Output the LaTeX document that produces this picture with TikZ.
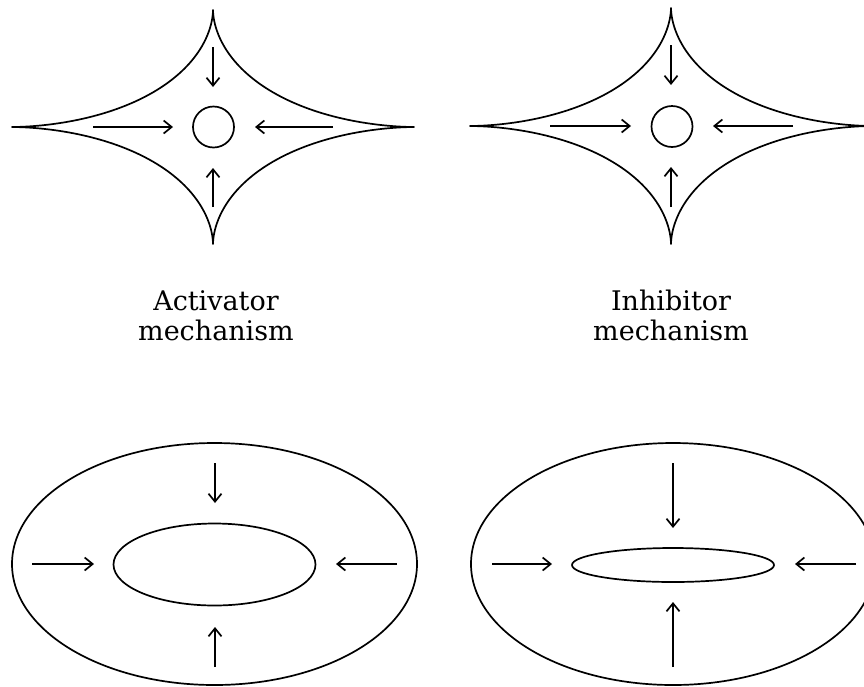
\documentclass[tikz,border=0pt]{standalone}
\usepackage{fontspec}
\setmainfont{DejaVu Serif}
\usetikzlibrary{arrows.meta}
\tikzset{
  outline/.style={line width=1.7pt, line join=round},
  arr/.style={line width=1.7pt, -{Straight Barb[length=8pt,width=13pt,line width=1.7pt]}},
  lbl/.style={align=center, font=\fontsize{27}{30}\selectfont, inner sep=0pt},
}
\begin{document}
\begin{tikzpicture}[x=1pt,y=-1pt]
\useasboundingbox (0,0) rectangle (864,686);

% ---------- top-left star (activator) ----------
\draw[outline] plot[domain=0:360, samples=361]
  ({213+201*cos(\x)*pow(abs(cos(\x))+0.00001,2.5)},
   {127+117*sin(\x)*pow(abs(sin(\x))+0.00001,2.5)}) -- cycle;
\node[draw, outline, circle, minimum size=41pt, inner sep=0pt] (c1) at (213.5,127) {};
\coordinate (a1l) at (93,127);  \coordinate (a1lt) at (173,127);
\coordinate (a1r) at (333,127); \coordinate (a1rt) at (255,127);
\coordinate (a1u) at (213,47);  \coordinate (a1ut) at (213,87);
\coordinate (a1d) at (213,207); \coordinate (a1dt) at (213,168);
\draw[arr] (a1l) -- (a1lt);
\draw[arr] (a1r) -- (a1rt);
\draw[arr] (a1u) -- (a1ut);
\draw[arr] (a1d) -- (a1dt);

% ---------- top-right star (inhibitor) ----------
\draw[outline] plot[domain=0:360, samples=361]
  ({671+201*cos(\x)*pow(abs(cos(\x))+0.00001,2.5)},
   {126+118*sin(\x)*pow(abs(sin(\x))+0.00001,2.5)}) -- cycle;
\node[draw, outline, circle, minimum size=41pt, inner sep=0pt] (c2) at (672,126.5) {};
\coordinate (a2l) at (550,126);  \coordinate (a2lt) at (631,126);
\coordinate (a2r) at (793,126);  \coordinate (a2rt) at (713,126);
\coordinate (a2u) at (671,45);   \coordinate (a2ut) at (671,85);
\coordinate (a2d) at (671,207);  \coordinate (a2dt) at (671,167);
\draw[arr] (a2l) -- (a2lt);
\draw[arr] (a2r) -- (a2rt);
\draw[arr] (a2u) -- (a2ut);
\draw[arr] (a2d) -- (a2dt);

% ---------- labels ----------
\node[lbl, anchor=base] (t1) at (216,340) {Activator\\mechanism};
\node[lbl, anchor=base] (t2) at (671,340) {Inhibitor\\mechanism};

% ---------- bottom-left ellipses ----------
\draw[outline] (214.5,564) ellipse [x radius=202.5, y radius=121];
\draw[outline] (214.5,564.5) ellipse [x radius=101, y radius=41];
\coordinate (b1l) at (32,564);   \coordinate (b1lt) at (94,564);
\coordinate (b1r) at (397,564);  \coordinate (b1rt) at (336,564);
\coordinate (b1u) at (215,463);  \coordinate (b1ut) at (215,503);
\coordinate (b1d) at (215,667);  \coordinate (b1dt) at (215,627);
\draw[arr] (b1l) -- (b1lt);
\draw[arr] (b1r) -- (b1rt);
\draw[arr] (b1u) -- (b1ut);
\draw[arr] (b1d) -- (b1dt);

% ---------- bottom-right ellipses ----------
\draw[outline] (673,564) ellipse [x radius=202, y radius=121];
\draw[outline] (673,565) ellipse [x radius=101, y radius=17];
\coordinate (b2l) at (492,564);  \coordinate (b2lt) at (552,564);
\coordinate (b2r) at (856,564);  \coordinate (b2rt) at (795,564);
\coordinate (b2u) at (673,463);  \coordinate (b2ut) at (673,528);
\coordinate (b2d) at (673,667);  \coordinate (b2dt) at (673,602);
\draw[arr] (b2l) -- (b2lt);
\draw[arr] (b2r) -- (b2rt);
\draw[arr] (b2u) -- (b2ut);
\draw[arr] (b2d) -- (b2dt);
\end{tikzpicture}
\end{document}
